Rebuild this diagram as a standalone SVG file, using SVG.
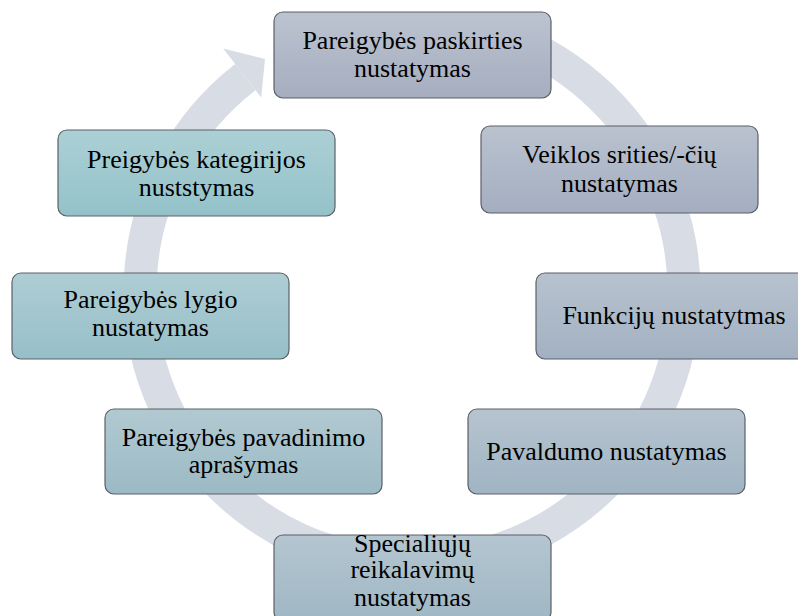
<svg xmlns="http://www.w3.org/2000/svg" width="798" height="616" viewBox="0 0 798 616">
<defs>
<linearGradient id="g1" x1="0" y1="0" x2="0" y2="1"><stop offset="0" stop-color="#bcc3d0"/><stop offset="1" stop-color="#a5adbf"/></linearGradient>
<linearGradient id="g2" x1="0" y1="0" x2="0" y2="1"><stop offset="0" stop-color="#bac2cf"/><stop offset="1" stop-color="#a4aec0"/></linearGradient>
<linearGradient id="g3" x1="0" y1="0" x2="0" y2="1"><stop offset="0" stop-color="#b7c2ce"/><stop offset="1" stop-color="#a2b1c2"/></linearGradient>
<linearGradient id="g4" x1="0" y1="0" x2="0" y2="1"><stop offset="0" stop-color="#b6c4cf"/><stop offset="1" stop-color="#a0b4c3"/></linearGradient>
<linearGradient id="g5" x1="0" y1="0" x2="0" y2="1"><stop offset="0" stop-color="#b4c6d0"/><stop offset="1" stop-color="#9fb7c4"/></linearGradient>
<linearGradient id="g6" x1="0" y1="0" x2="0" y2="1"><stop offset="0" stop-color="#b1c9d1"/><stop offset="1" stop-color="#9bbac5"/></linearGradient>
<linearGradient id="g7" x1="0" y1="0" x2="0" y2="1"><stop offset="0" stop-color="#aecdd4"/><stop offset="1" stop-color="#97bfc8"/></linearGradient>
<linearGradient id="g8" x1="0" y1="0" x2="0" y2="1"><stop offset="0" stop-color="#abd0d5"/><stop offset="1" stop-color="#94c2c9"/></linearGradient>
</defs>
<style>
.box{stroke:#5b6068;stroke-width:1.2}
.t{font-family:"Liberation Serif","Times New Roman",serif;font-size:26px;fill:#000;text-anchor:middle}
.band{fill:none;stroke:#d8dce4;stroke-width:33}
.head{fill:#d8dce4}
</style>
<rect width="798" height="616" fill="#ffffff"/>
<g id="connectors">
<path class="band" d="M505,36.4 A272,272 0 1 1 245.3,77.1"/>
<polygon class="head" points="223.2,48.6 265,59 261.2,97.6"/>
</g>
<g id="n1"><rect class="box" x="274" y="12" width="277" height="86" rx="9" fill="url(#g1)"/>
<text class="t" x="412.5" y="48.5">Pareigybės paskirties</text><text class="t" x="412.5" y="76.7">nustatymas</text></g>
<g id="n2"><rect class="box" x="481" y="126" width="277" height="87" rx="9" fill="url(#g2)"/>
<text class="t" x="619.5" y="163.3">Veiklos srities/-čių</text><text class="t" x="619.5" y="191.6">nustatymas</text></g>
<g id="n3"><rect class="box" x="536" y="273" width="277" height="86" rx="9" fill="url(#g3)"/>
<text class="t" x="674" y="324">Funkcijų nustatytmas</text></g>
<g id="n4"><rect class="box" x="468" y="409" width="277" height="85" rx="9" fill="url(#g4)"/>
<text class="t" x="606.5" y="459.5">Pavaldumo nustatymas</text></g>
<g id="n5"><rect class="box" x="274" y="535" width="277" height="86" rx="9" fill="url(#g5)"/>
<text class="t" x="412.5" y="551.7">Specialiųjų</text><text class="t" x="412.5" y="578.3">reikalavimų</text><text class="t" x="412.5" y="605.5">nustatymas</text></g>
<g id="n6"><rect class="box" x="105" y="409" width="277" height="85" rx="9" fill="url(#g6)"/>
<text class="t" x="243.5" y="446">Pareigybės pavadinimo</text><text class="t" x="243.5" y="473.3">aprašymas</text></g>
<g id="n7"><rect class="box" x="12" y="273" width="277" height="86" rx="9" fill="url(#g7)"/>
<text class="t" x="150.5" y="308">Pareigybės lygio</text><text class="t" x="150.5" y="336.3">nustatymas</text></g>
<g id="n8"><rect class="box" x="58" y="130" width="277" height="86" rx="9" fill="url(#g8)"/>
<text class="t" x="196.5" y="168.3">Preigybės kategirijos</text><text class="t" x="196.5" y="195.5">nuststymas</text></g>
</svg>
